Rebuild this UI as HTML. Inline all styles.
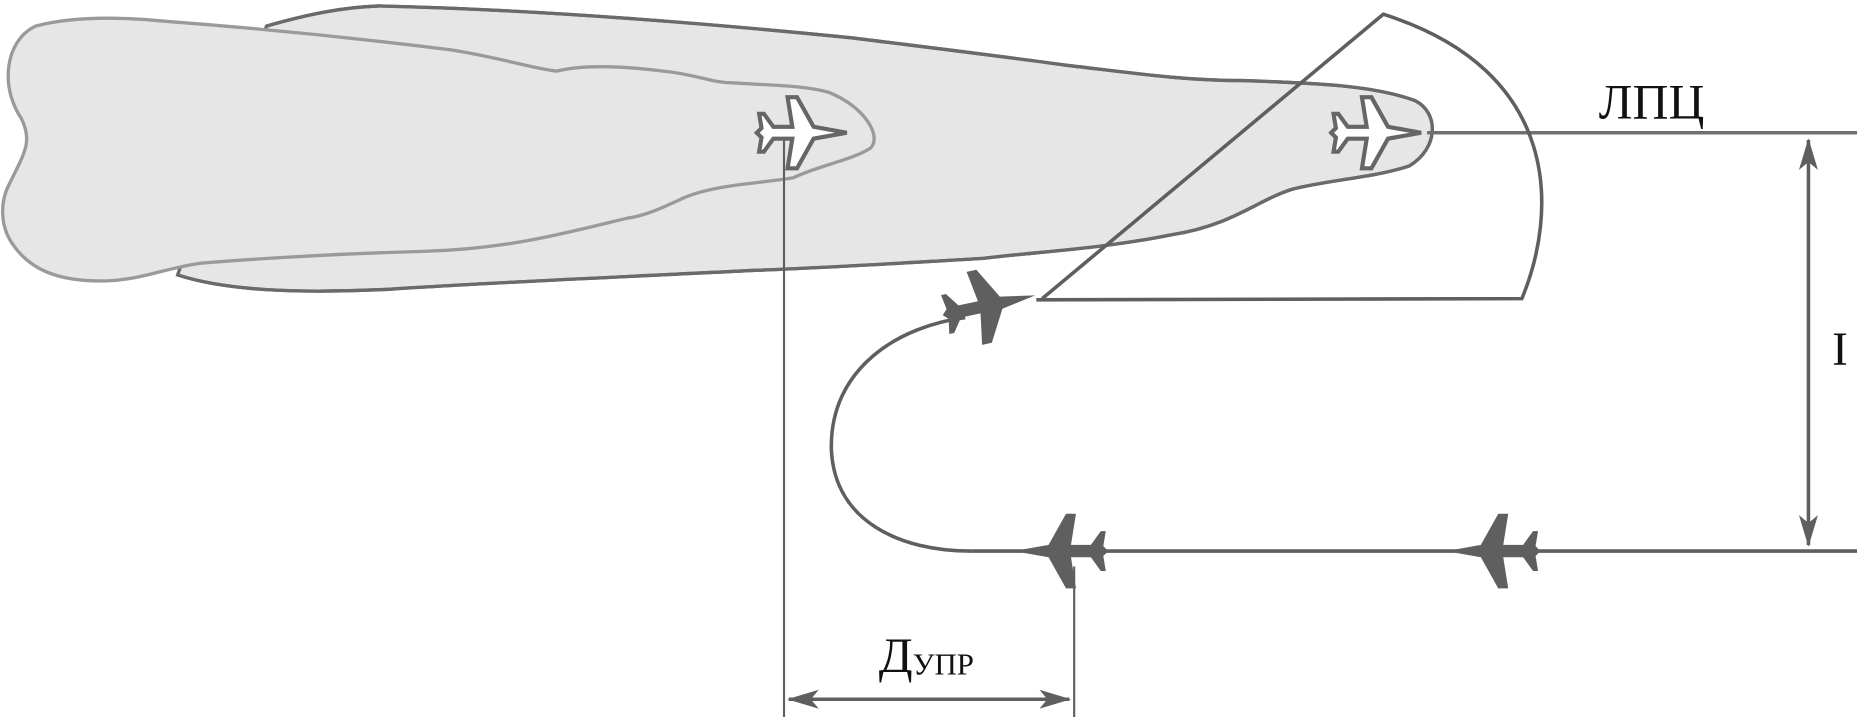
<!DOCTYPE html>
<html><head><meta charset="utf-8"><style>html,body{margin:0;padding:0;background:#fff}svg{display:block}</style></head>
<body>
<svg width="1857" height="717" viewBox="0 0 1568 605" preserveAspectRatio="none" xmlns="http://www.w3.org/2000/svg">
<defs>
<path id="pl" d="M40,0 L12,-5 L-2,-30 L-10,-30 L-6,-5 L-22,-5 L-30,-16 L-34,-16 L-32,-4 L-36,0 L-32,4 L-34,16 L-30,16 L-22,5 L-6,5 L-10,30 L-2,30 L12,5 Z"/>
<marker id="a2" viewBox="0 0 20 12" refX="19" refY="6" markerWidth="28" markerHeight="16" markerUnits="userSpaceOnUse" orient="auto-start-reverse"><path d="M0,0 L20,6 L0,12 L5,6 z" fill="#5f5f5f"/></marker>
</defs>
<path d="M225,22 C260,12 290,6 320,5 C450,8 600,20 720,32 C800,42 850,48 900,55 C960,62 1000,68 1050,68 C1110,70 1160,72 1195,85 C1215,95 1215,125 1190,140 C1160,150 1120,152 1090,160 C1060,170 1040,190 990,198 C930,210 880,212 830,218 C760,222 700,226 640,228 C520,234 420,238 330,244 C250,248 190,245 150,232 Z" fill="#e6e6e6" stroke="#6a6a6a" stroke-width="2.8"/>
<path d="M30,22 C60,14 100,14 140,18 C220,24 300,32 380,42 C420,48 450,58 470,60 C490,55 520,55 560,60 C590,63 600,70 620,70 C650,72 680,72 700,78 C730,90 745,115 735,125 C720,135 690,140 670,150 C640,155 600,156 575,168 C560,175 545,182 530,184 C480,196 430,210 360,212 C290,214 220,218 170,222 C140,226 120,236 90,237 C50,238 25,228 10,205 C0,190 0,170 8,155 C20,130 28,120 18,100 C5,80 5,60 10,45 C15,32 22,26 30,22 Z" fill="#e6e6e6" stroke="#9a9a9a" stroke-width="2.8"/>
<path d="M225,22 C260,12 290,6 320,5 C450,8 600,20 720,32 C800,42 850,48 900,55 C960,62 1000,68 1050,68 C1110,70 1160,72 1195,85 C1215,95 1215,125 1190,140 C1160,150 1120,152 1090,160 C1060,170 1040,190 990,198 C930,210 880,212 830,218 C760,222 700,226 640,228 C520,234 420,238 330,244 C250,248 190,245 150,232" fill="none" stroke="#6a6a6a" stroke-width="2.8"/>
<g stroke="#5f5f5f" fill="none" stroke-width="3">
<line x1="662" y1="112" x2="662" y2="605" stroke-width="1.8"/>
<line x1="907" y1="478" x2="907" y2="605" stroke-width="1.8"/>
<line x1="1205" y1="112" x2="1568" y2="112" stroke="#707070"/>
<line x1="820" y1="465" x2="1568" y2="465"/>
<path d="M820,465 C760,465 705,440 702,380 C700,310 760,275 815,268"/>
<path d="M875,253 L1285,252 C1315,180 1320,60 1168,12 L880,252"/>
<line x1="1527" y1="118" x2="1527" y2="460" marker-start="url(#a2)" marker-end="url(#a2)"/>
<line x1="666" y1="590" x2="903" y2="590" marker-start="url(#a2)" marker-end="url(#a2)"/>
</g>
<use href="#pl" transform="translate(675,112) scale(1.0)" fill="#fff" stroke="#666" stroke-width="3.5"/>
<use href="#pl" transform="translate(1160,112) scale(1.0)" fill="#fff" stroke="#666" stroke-width="3.5"/>
<use href="#pl" transform="translate(898,465) rotate(180) scale(1.05)" fill="#5f5f5f"/>
<use href="#pl" transform="translate(1263,465) rotate(180) scale(1.05)" fill="#5f5f5f"/>
<use href="#pl" transform="translate(833,258) rotate(-12) scale(1.05)" fill="#5f5f5f"/>
<g font-family="'Liberation Serif',serif" fill="#111">
<text x="1350" y="100" font-size="42">ЛПЦ</text>
<text x="1547" y="308" font-size="40">I</text>
<text x="742" y="567" font-size="42">Д<tspan font-size="26" dy="2">УПР</tspan></text>
</g>
</svg>
</body></html>
